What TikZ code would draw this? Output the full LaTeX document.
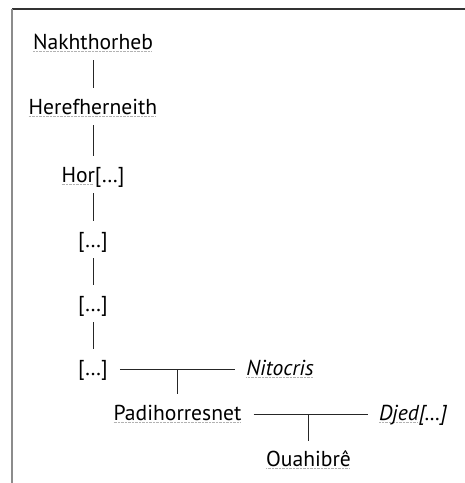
\documentclass[tikz,border=0pt]{standalone}
\usepackage{fontspec}
\setmainfont{PT Sans}
\usetikzlibrary{calc}

% spell-check style dotted underline
\newsavebox{\spellbox}
\newcommand{\spellmark}[1]{\sbox{\spellbox}{#1}\rlap{\lower2.8pt\hbox to \wd\spellbox{\color{gray!60}\leaders\hbox{\rule{0.9pt}{0.8pt}\kern0.5pt}\hfill}}\usebox{\spellbox}}

\begin{document}
\begin{tikzpicture}[x=1pt,y=-1pt]

% Styles
\tikzset{
  person/.style={font=\fontsize{21.6}{24}\selectfont, inner sep=0pt, anchor=base,
                 text height=16pt, text depth=4pt},
  descent/.style={line width=0.8pt, black!85, shorten <=7pt, shorten >=10pt},
  union/.style={line width=0.8pt, black!85, shorten <=12pt, shorten >=11pt}
}

% Frame
\useasboundingbox (0,0) rectangle (465,483);
\draw[line width=1.6pt, black!80] (12,9) -- (465,9);
\draw[line width=1.8pt, black!45] (12,9) -- (12,483);

% Direct line
\node[person] (nakh)  at (93,49)  {\spellmark{Nakhthorheb}};
\node[person] (heref) at (93,114) {\spellmark{Herefherneith}};
\node[person] (hor)   at (93,182) {\spellmark{Hor}[\dots]};
\node[person] (dA)    at (93,247) {[\dots]};
\node[person] (dB)    at (93,311) {[\dots]};
\node[person] (dC)    at (93,375) {[\dots]};

\draw[descent] (nakh) -- (heref);
\draw[descent] (heref) -- (hor);
\draw[descent] (hor) -- (dA);
\draw[descent] (dA) -- (dB);
\draw[descent] (dB) -- (dC);

% First marriage
\node[person] (nit)  at (280,375)   {\itshape\spellmark{Nitocris}};
\node[person] (padi) at (177.5,420) {\spellmark{Padihorresnet}};
\draw[union] (dC.east) -- (nit.west);
\coordinate (mA) at (padi.north |- dC.east);
\draw[descent, shorten <=0pt] (mA) -- (padi.north);

% Second marriage
\node[person] (djed) at (413,420)   {\itshape\spellmark{Djed}[\dots]};
\node[person] (ouah) at (308.5,466) {\spellmark{Ouahibrê}};
\draw[union] (padi.east) -- (djed.west);
\coordinate (mB) at (ouah.north |- padi.east);
\draw[descent, shorten <=0pt, shorten >=9pt] (mB) -- (ouah.north);

\end{tikzpicture}
\end{document}
